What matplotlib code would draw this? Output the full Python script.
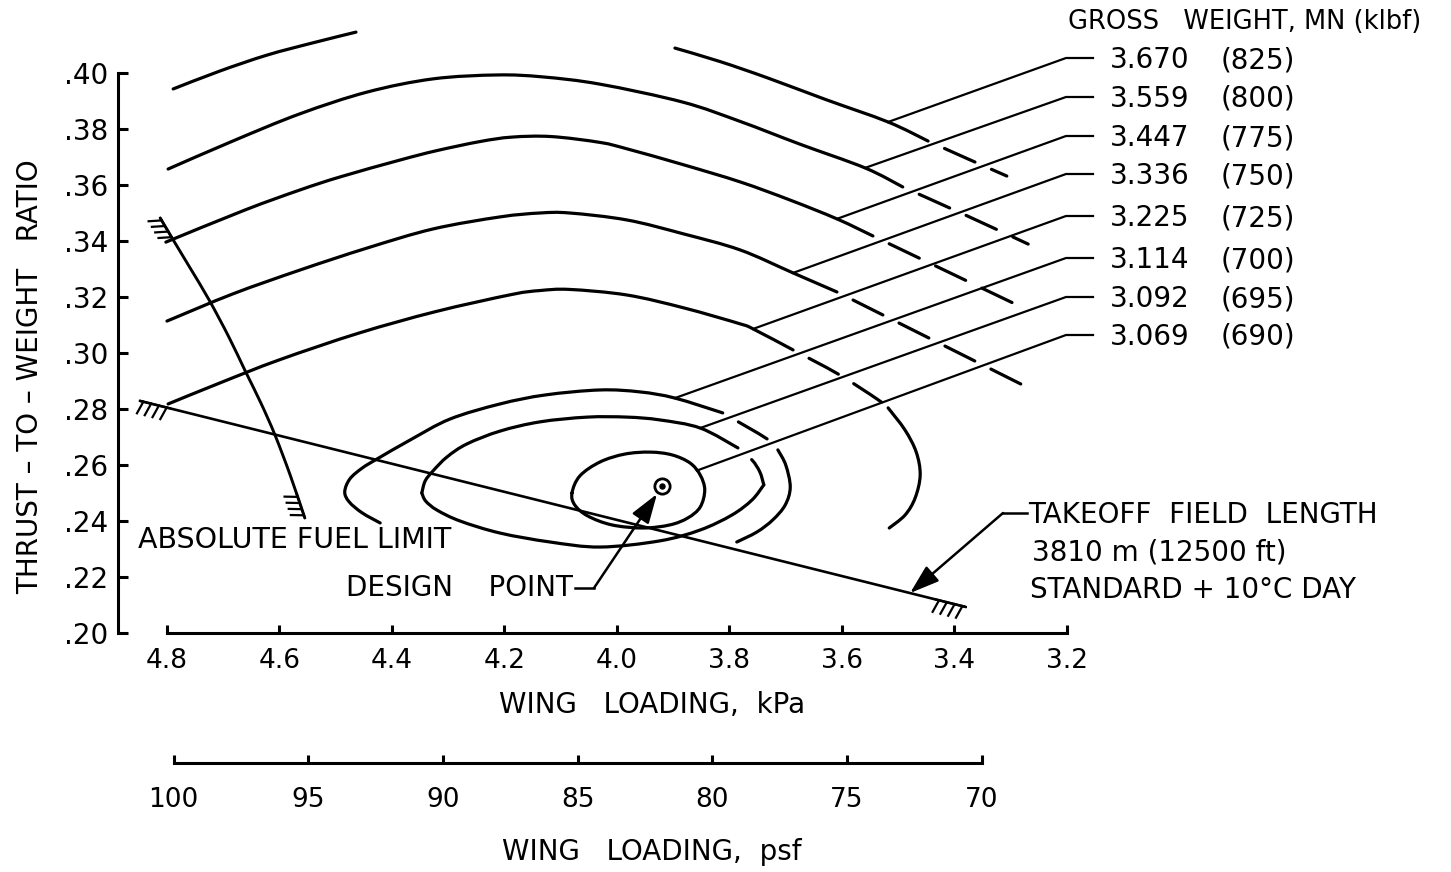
import numpy as np
import matplotlib
matplotlib.use("Agg")
import matplotlib.pyplot as plt
from matplotlib import patheffects as pe
from matplotlib.path import Path
from matplotlib.patches import PathPatch

plt.rcParams["font.family"] = ["DejaVu Sans"]
plt.rcParams["lines.scale_dashes"] = False

W_PX, H_PX = 1451, 872

# ---------------------------------------------------------------- axes ticks
kpa_ticks = [4.8, 4.6, 4.4, 4.2, 4.0, 3.8, 3.6, 3.4, 3.2]
kpa_labels = ["4.8", "4.6", "4.4", "4.2", "4.0", "3.8", "3.6", "3.4", "3.2"]
psf_ticks = [100, 95, 90, 85, 80, 75, 70]
psf_labels = ["100", "95", "90", "85", "80", "75", "70"]
tw_ticks = [0.20, 0.22, 0.24, 0.26, 0.28, 0.30, 0.32, 0.34, 0.36, 0.38, 0.40]
tw_labels = [".20", ".22", ".24", ".26", ".28", ".30", ".32", ".34", ".36", ".38", ".40"]
KPA_PER_PSF = 0.0478803

# ---------------------------------------------------------- contour labels
gw_mn = ["3.670", "3.559", "3.447", "3.336", "3.225", "3.114", "3.092", "3.069"]
gw_klbf = ["(825)", "(800)", "(775)", "(750)", "(725)", "(700)", "(695)", "(690)"]

# ------------------------------------------- gross-weight contours (kPa, T/W)
# 825 klbf: left piece, right piece, dashed continuation
w825_a = [4.789, 4.706, 4.622, 4.542, 4.464]
t825_a = [0.3943, 0.4007, 0.4064, 0.4107, 0.4146]
w825_b = [3.897, 3.817, 3.733, 3.630, 3.518, 3.447]
t825_b = [0.4089, 0.4041, 0.3983, 0.3906, 0.3825, 0.3757]
w825_d = [3.447, 3.376, 3.307]
t825_d = [0.3757, 0.3693, 0.3632]

# 800 klbf
w800 = [4.798, 4.683, 4.564, 4.444, 4.327, 4.213, 4.132, 4.030, 3.883, 3.781, 3.675, 3.559, 3.492]
t800 = [0.3657, 0.3757, 0.3854, 0.3932, 0.3979, 0.3993, 0.3986, 0.3960, 0.3896, 0.3827, 0.3746, 0.3661, 0.3593]
w800_d = [3.492, 3.381, 3.269]
t800_d = [0.3593, 0.3493, 0.3389]

# 775 klbf
w775 = [4.802, 4.661, 4.564, 4.492, 4.386, 4.322, 4.244, 4.187, 4.117, 4.030, 3.982, 3.883, 3.781, 3.692, 3.609, 3.545]
t775 = [0.3396, 0.3511, 0.3582, 0.3629, 0.3689, 0.3722, 0.3755, 0.3771, 0.3773, 0.3752, 0.3729, 0.3673, 0.3611, 0.3546, 0.3479, 0.3418]
w775_d = [3.545, 3.415, 3.285]
t775_d = [0.3418, 0.3293, 0.3168]

# 750 klbf
w750 = [4.800, 4.683, 4.564, 4.444, 4.327, 4.208, 4.137, 4.084, 3.982, 3.881, 3.781, 3.687, 3.609]
t750 = [0.3114, 0.3211, 0.3296, 0.3375, 0.3443, 0.3486, 0.3500, 0.3500, 0.3475, 0.3425, 0.3368, 0.3286, 0.3218]
w750_d = [3.609, 3.438, 3.268]
t750_d = [0.3218, 0.3046, 0.2875]

# 725 klbf: upper branch, dashed link, closing arc
w725 = [4.798, 4.706, 4.601, 4.459, 4.322, 4.187, 4.137, 4.084, 3.982, 3.881, 3.781, 3.758, 3.687]
t725 = [0.2818, 0.2893, 0.2975, 0.3071, 0.3148, 0.3209, 0.3223, 0.3227, 0.3207, 0.3161, 0.3104, 0.3086, 0.3011]
w725_d = [3.687, 3.607, 3.538, 3.518]
t725_d = [0.3011, 0.2925, 0.2836, 0.2804]
w725_c = [3.518, 3.488, 3.468, 3.461, 3.470, 3.488, 3.516]
t725_c = [0.2804, 0.2725, 0.2646, 0.2564, 0.2482, 0.2421, 0.2375]

# 700 klbf
w700 = [4.421, 4.453, 4.476, 4.484, 4.475, 4.453, 4.427, 4.368, 4.297, 4.208, 4.128, 4.030, 3.959, 3.897, 3.812]
t700 = [0.2393, 0.2429, 0.2468, 0.2504, 0.2550, 0.2589, 0.2621, 0.2689, 0.2764, 0.2818, 0.2850, 0.2868, 0.2861, 0.2839, 0.2786]
w700_d = [3.812, 3.733, 3.714]
t700_d = [0.2786, 0.2693, 0.2654]
w700_c = [3.714, 3.700, 3.692, 3.701, 3.723, 3.751, 3.787]
t700_c = [0.2654, 0.2600, 0.2521, 0.2457, 0.2404, 0.2361, 0.2325]

# 695 klbf
w695 = [4.347, 4.341, 4.327, 4.302, 4.267, 4.208, 4.137, 4.053, 3.982, 3.924, 3.852, 3.785]
t695 = [0.2500, 0.2543, 0.2579, 0.2629, 0.2675, 0.2721, 0.2754, 0.2771, 0.2771, 0.2761, 0.2732, 0.2661]
w695_d = [3.785, 3.760, 3.746, 3.739]
t695_d = [0.2661, 0.2618, 0.2575, 0.2529]
w695_c = [3.739, 3.760, 3.796, 3.852, 3.924, 4.030, 4.119, 4.208, 4.279, 4.320, 4.340, 4.347]
t695_c = [0.2529, 0.2475, 0.2421, 0.2368, 0.2329, 0.2307, 0.2325, 0.2357, 0.2400, 0.2439, 0.2471, 0.2500]

# 690 klbf (closed)
w690 = [4.080, 4.066, 4.030, 3.986, 3.941, 3.902, 3.870, 3.852, 3.844, 3.852, 3.874, 3.906, 3.954, 4.009, 4.052, 4.075, 4.080]
t690 = [0.2500, 0.2561, 0.2611, 0.2639, 0.2646, 0.2636, 0.2607, 0.2564, 0.2511, 0.2450, 0.2411, 0.2386, 0.2375, 0.2386, 0.2418, 0.2457, 0.2500]

# points where the label leaders leave each contour (825 ... 690)
lead_w = [3.518, 3.559, 3.609, 3.687, 3.758, 3.897, 3.852, 3.858]
lead_t = [0.3825, 0.3661, 0.3479, 0.3286, 0.3086, 0.2839, 0.2732, 0.2580]

# design point
dp_w, dp_t = 3.920, 0.2525

# constraint lines
to_w = [4.848, 3.380]            # takeoff field length
to_t = [0.2829, 0.2093]
fuel_w = [4.812, 4.789, 4.759, 4.725, 4.690, 4.660, 4.633, 4.608, 4.581, 4.555]
fuel_t = [0.3482, 0.3404, 0.3304, 0.3189, 0.3057, 0.2932, 0.2821, 0.2707, 0.2564, 0.2411]


def fpx(x, y):
    """Figure-fraction position from pixel offsets measured from the top-left."""
    return x / W_PX, 1 - y / H_PX


def smooth_path(xs, ys, closed=False):
    """Cubic Bezier path passing through every given point (Catmull-Rom tangents)."""
    p = np.column_stack([xs, ys]).astype(float)
    if closed:
        p = p[:-1]
        ext = np.vstack([p[-1], p, p[0], p[1]])
    else:
        ext = np.vstack([p[0], p, p[-1]])
    verts, codes = [ext[1]], [Path.MOVETO]
    for i in range(1, len(ext) - 2):
        p0, p1, p2, p3 = ext[i - 1], ext[i], ext[i + 1], ext[i + 2]
        verts += [p1 + (p2 - p0) / 6.0, p2 - (p3 - p1) / 6.0, p2]
        codes += [Path.CURVE4] * 3
    return Path(np.array(verts), codes)


fig = plt.figure(figsize=(W_PX / 100, H_PX / 100), dpi=100)
fig.patch.set_facecolor("white")
ax = fig.add_axes([118 / W_PX, (H_PX - 633) / H_PX, 1 - 118 / W_PX, 633 / H_PX])
ax.set_xlim(4.8871, 2.5173)
ax.set_ylim(0.20, 0.42607)
ax.patch.set_alpha(0)

AXLW = 2.2
for side in ("top", "right"):
    ax.spines[side].set_visible(False)
ax.spines["left"].set_bounds(0.20, 0.40)
ax.spines["bottom"].set_bounds(3.2, 4.8)
ax.spines["left"].set_linewidth(AXLW)
ax.spines["bottom"].set_linewidth(AXLW)

ax.set_yticks(tw_ticks, labels=tw_labels)
ax.set_xticks(kpa_ticks, labels=kpa_labels)
ax.tick_params(axis="y", direction="in", length=7, width=AXLW, pad=7, labelsize=20)
ax.tick_params(axis="x", direction="in", length=6, width=AXLW, pad=11, labelsize=19)

sec = ax.secondary_xaxis(-130 / 633, functions=(lambda w: np.asarray(w) / KPA_PER_PSF,
                                                 lambda p: np.asarray(p) * KPA_PER_PSF))
sec.set_xticks(psf_ticks, labels=psf_labels)
sec.spines["bottom"].set_bounds(70, 100)
sec.spines["bottom"].set_linewidth(AXLW)
sec.tick_params(direction="in", length=6, width=AXLW, pad=17, labelsize=19)

# ------------------------------------------------------------- contours
CLW = 2.3
DASH_ON, DASH_OFF = 24.0, 13.0

solid_pieces = [(w825_a, t825_a, False), (w825_b, t825_b, False), (w800, t800, False),
                (w775, t775, False), (w750, t750, False), (w725, t725, False),
                (w725_c, t725_c, False), (w700, t700, False), (w700_c, t700_c, False),
                (w695, t695, False), (w695_c, t695_c, False), (w690, t690, True)]
dashed_pieces = [(w825_d, t825_d), (w800_d, t800_d), (w775_d, t775_d), (w750_d, t750_d),
                 (w725_d, t725_d), (w700_d, t700_d), (w695_d, t695_d)]
for xs, ys, closed in solid_pieces:
    ax.add_patch(PathPatch(smooth_path(xs, ys, closed), fill=False, ec="k", lw=CLW,
                           capstyle="round", joinstyle="round"))
for xs, ys in dashed_pieces:
    ax.add_patch(PathPatch(smooth_path(xs, ys), fill=False, ec="k", lw=CLW,
                           capstyle="round", linestyle=(DASH_ON, (DASH_ON, DASH_OFF))))

# ------------------------------------------------------ labels + leaders
label_rows = [58, 97, 136, 174, 216, 258, 297, 335]   # pixel rows of the label column
inv = ax.transData.inverted()
for jw, jt, row, mn, kl in zip(lead_w, lead_t, label_rows, gw_mn, gw_klbf):
    (bw, bt), (ew, _) = inv.transform([[1066, H_PX - row], [1093, H_PX - row]])
    ax.plot([jw, bw, ew], [jt, bt, bt], color="k", lw=1.6, solid_joinstyle="miter")
    fig.text(*fpx(1110, row + 2), mn, fontsize=20, va="center", ha="left")
    fig.text(*fpx(1221, row + 2), kl, fontsize=20, va="center", ha="left")

fig.text(*fpx(1068, 22), "GROSS   WEIGHT, MN (klbf)", fontsize=18.5, va="center", ha="left")

# ----------------------------------------------------- constraint lines
ax.add_patch(PathPatch(smooth_path(fuel_w, fuel_t), fill=False, ec="k", lw=2.1,
                       capstyle="round"))
ax.plot(to_w, to_t, color="k", lw=1.9, solid_capstyle="round")


def end_piece(xs, ys, length_px, at_end=False):
    pts = ax.transData.transform(np.column_stack([xs, ys]))
    if at_end:
        pts = pts[::-1]
    s = np.concatenate([[0.0], np.cumsum(np.hypot(*np.diff(pts, axis=0).T))])
    cut = np.linspace(0.0, length_px, 10)
    sub = np.column_stack([np.interp(cut, s, pts[:, 0]), np.interp(cut, s, pts[:, 1])])
    if at_end:
        sub = sub[::-1]
    return inv.transform(sub).T


hatch_specs = [
    (to_w, to_t, 31, False, 5.0, -105, 1.9),
    (to_w, to_t, 31, True, 5.0, -105, 1.9),
    (fuel_w, fuel_t, 25, False, 4.0, -117, 2.35),
    (fuel_w, fuel_t, 25, True, 4.0, -110, 2.35),
]
for xs, ys, L, at_end, sp, ang, ln in hatch_specs:
    hx, hy = end_piece(xs, ys, L, at_end)
    ax.plot(hx, hy, color="k", lw=1.6,
            path_effects=[pe.withTickedStroke(spacing=sp, angle=ang, length=ln)])

# ---------------------------------------------------------- design point
ax.plot(dp_w, dp_t, "o", ms=11, mfc="white", mec="k", mew=2.0, zorder=5)
ax.plot(dp_w, dp_t, "o", ms=3.6, color="k", zorder=6)

arrow_kw = dict(arrowstyle="-|>,head_length=0.9,head_width=0.3", color="k", lw=1.8,
                shrinkA=0, shrinkB=0, mutation_scale=20)

# DESIGN POINT leader
(d0w, d0t), (d1w, _) = inv.transform([[575, H_PX - 588], [594, H_PX - 588]])
ax.plot([d0w, d1w], [d0t, d0t], color="k", lw=1.8)
tip = ax.transData.transform([[dp_w, dp_t]])[0] + np.array([-5.0, -8.0])
tip_w, tip_t = inv.transform([tip])[0]
ax.annotate("", xy=(tip_w, tip_t), xytext=(d1w, d0t), arrowprops=arrow_kw)
fig.text(*fpx(573, 588), "DESIGN    POINT", fontsize=20, va="center", ha="right")

# TAKEOFF leader
(k0w, k0t), (k1w, _) = inv.transform([[1027, H_PX - 513], [1003, H_PX - 513]])
ax.plot([k0w, k1w], [k0t, k0t], color="k", lw=1.8)
to_tip_w = 3.479
to_tip_t = np.interp(-to_tip_w, -np.asarray(to_w), to_t)
ax.annotate("", xy=(to_tip_w, to_tip_t), xytext=(k1w, k0t), arrowprops=arrow_kw)

# ------------------------------------------------------------------ text
fig.text(*fpx(1028, 515), "TAKEOFF  FIELD  LENGTH", fontsize=20, va="center", ha="left")
fig.text(*fpx(1032, 552), "3810 m (12500 ft)", fontsize=20, va="center", ha="left")
fig.text(*fpx(1030, 590), "STANDARD + 10°C DAY", fontsize=20, va="center", ha="left")
fig.text(*fpx(138, 540), "ABSOLUTE FUEL LIMIT", fontsize=20.5, va="center", ha="left")

fig.text(*fpx(30, 377), "THRUST – TO – WEIGHT   RATIO", fontsize=20, rotation=90,
         va="center", ha="center")
fig.text(*fpx(652, 705), "WING   LOADING,  kPa", fontsize=20, va="center", ha="center")
fig.text(*fpx(652, 852), "WING   LOADING,  psf", fontsize=20, va="center", ha="center")

fig.savefig("out.png", dpi=100)
